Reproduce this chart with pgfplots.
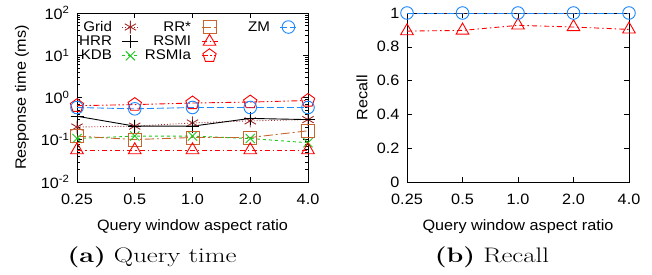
\documentclass[border=0pt]{standalone}
\usepackage{graphicx}
\usepackage{pgfplots}
\pgfplotsset{compat=1.18}
\usepackage{fontspec}
\newfontfamily\helv{Liberation Sans}[FakeStretch=1.08]
\definecolor{cGrid}{RGB}{160,40,40}
\definecolor{cKDB}{RGB}{30,200,30}
\definecolor{cRR}{RGB}{200,100,45}
\definecolor{cRed}{RGB}{255,0,0}
\definecolor{cZM}{RGB}{30,136,255}
\pgfplotsset{
  every axis/.append style={
    scale only axis,
    font=\helv\fontsize{15}{17}\selectfont,
    /pgf/number format/assume math mode=true,
    tick style={black, line width=0.6pt},
    major tick length=5pt,
    minor tick length=3pt,
    axis line style={line width=0.9pt},
    xmin=0, xmax=4,
    xtick={0,1,2,3,4},
    xticklabels={0.25,0.5,1.0,2.0,4.0},
    xlabel={Query window aspect ratio},
    xlabel style={at={(axis description cs:0.5,-0.262)}, anchor=center},
    xticklabel style={anchor=center, yshift=-17pt},
    yticklabel style={xshift=-4pt},
    every tick label/.append style={font=\helv\fontsize{15}{17}\selectfont},
    every axis plot/.append style={line width=0.9pt, mark options={solid, line width=0.9pt}},
  },
  sGrid/.style={color=cGrid, dotted, mark=asterisk, mark size=6.5pt},
  sHRR/.style={color=black, solid, mark=+, mark size=6.5pt},
  sKDB/.style={color=cKDB, dashed, mark=x, mark size=6.5pt},
  sRR/.style={color=cRR, dash pattern=on 9pt off 3pt on 2pt off 3pt, mark=square, mark size=6.5pt},
  sRSMI/.style={color=cRed, dash pattern=on 5pt off 3pt on 1.5pt off 3pt, mark=triangle, mark size=7.3pt},
  sRSMIa/.style={color=cRed, dash pattern=on 6pt off 2.5pt on 1.5pt off 2.5pt on 1.5pt off 2.5pt, mark=pentagon, mark size=7pt},
  sZM/.style={color=cZM, dash pattern=on 7pt off 3pt, mark=o, mark size=6.3pt},
}
\begin{document}
\begin{tikzpicture}
\path[use as bounding box] (0pt,0pt) rectangle (652pt,274pt);
\begin{axis}[
  at={(77pt,92pt)}, anchor=south west,
  width=231pt, height=169pt,
  ymode=log, ymin=1e-2, ymax=1e2,
  ytick={1e-2,1e-1,1e0,1e1,1e2},
  yticklabels={10\textsuperscript{-2},10\textsuperscript{-1},10\textsuperscript{0},10\textsuperscript{1},10\textsuperscript{2}},
  ylabel={Response time (ms)},
  ylabel style={at={(axis description cs:-0.238,0.5)}, anchor=center},
  legend columns=3,
  legend plot pos=right,
  legend cell align=right,
  legend style={draw=none, fill=none, at={(0.0,1.0)}, anchor=north west,
    font=\helv\fontsize{14}{16}\selectfont, inner sep=0pt, xshift=1pt, yshift=-7pt,
    row sep=0.5pt, nodes={inner sep=1pt},
    /tikz/every odd column/.append style={column sep=9pt},
    /tikz/every even column/.append style={column sep=5pt}},
  legend image code/.code={\draw[mark repeat=2,mark phase=2] plot coordinates {(0pt,0pt) (8pt,0pt) (16pt,0pt)};},
]
\addplot[sGrid, forget plot] coordinates {(0,0.20) (1,0.21) (2,0.25) (3,0.28) (4,0.30)};
\addplot[sHRR, forget plot] coordinates {(0,0.36) (1,0.21) (2,0.21) (3,0.32) (4,0.30)};
\addplot[sKDB, forget plot] coordinates {(0,0.107) (1,0.122) (2,0.122) (3,0.107) (4,0.085)};
\addplot[sRR, forget plot] coordinates {(0,0.122) (1,0.101) (2,0.113) (3,0.113) (4,0.163)};
\addplot[sRSMI, forget plot] coordinates {(0,0.057) (1,0.057) (2,0.057) (3,0.057) (4,0.057)};
\addplot[sRSMIa, forget plot] coordinates {(0,0.64) (1,0.68) (2,0.74) (3,0.78) (4,0.85)};
\addplot[sZM, forget plot] coordinates {(0,0.58) (1,0.54) (2,0.58) (3,0.58) (4,0.58)};
\addlegendimage{sGrid}\addlegendentry{Grid}
\addlegendimage{sRR}\addlegendentry{RR*}
\addlegendimage{sZM}\addlegendentry{\makebox[46pt][r]{ZM}}
\addlegendimage{sHRR}\addlegendentry{HRR}
\addlegendimage{sRSMI}\addlegendentry{RSMI}
\addlegendimage{empty legend}\addlegendentry{}
\addlegendimage{sKDB}\addlegendentry{KDB}
\addlegendimage{sRSMIa}\addlegendentry{RSMIa}
\end{axis}
\begin{axis}[
  at={(407pt,92pt)}, anchor=south west,
  width=222pt, height=169pt,
  ymin=0, ymax=1,
  ytick={0,0.2,0.4,0.6,0.8,1},
  yticklabels={0,0.2,0.4,0.6,0.8,1},
  ylabel={Recall},
  ylabel style={at={(axis description cs:-0.203,0.5)}, anchor=center},
  clip=false,
]
\addplot[sGrid, no marks] coordinates {(0,1) (1,1) (2,1) (3,1) (4,1)};
\addplot[sKDB, no marks] coordinates {(0,1) (1,1) (2,1) (3,1) (4,1)};
\addplot[sRR, no marks] coordinates {(0,1) (1,1) (2,1) (3,1) (4,1)};
\addplot[sRSMIa, no marks] coordinates {(0,1) (1,1) (2,1) (3,1) (4,1)};
\addplot[sHRR, no marks] coordinates {(0,1) (1,1) (2,1) (3,1) (4,1)};
\addplot[sRSMI] coordinates {(0,0.893) (1,0.897) (2,0.927) (3,0.917) (4,0.903)};
\addplot[sZM] coordinates {(0,1) (1,1) (2,1) (3,1) (4,1)};
\end{axis}
\node at (152pt,17pt) {\scalebox{1.28}[1]{\fontsize{21}{23}\selectfont\textbf{(a)} Query time}};
\node at (492pt,17pt) {\scalebox{1.28}[1]{\fontsize{21}{23}\selectfont\textbf{(b)} Recall}};
\end{tikzpicture}
\end{document}
